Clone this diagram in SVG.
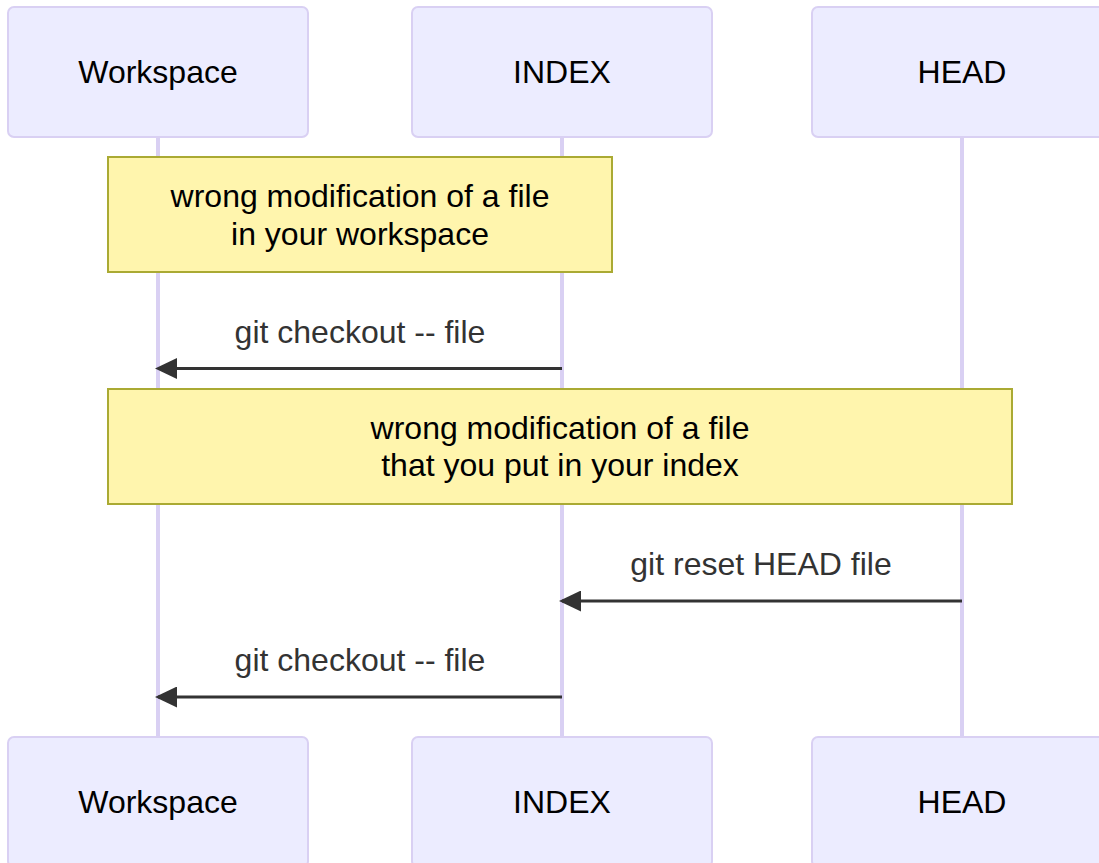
<svg xmlns="http://www.w3.org/2000/svg" width="1099" height="863" viewBox="0 0 1099 863">
  <style>
    text { font-family: "Liberation Sans", Arial, sans-serif; font-size: 32px; text-anchor: middle; dominant-baseline: central; }
    .actor { fill: #ececff; stroke: #d9d0f3; stroke-width: 2; }
    .actor-text { fill: #000; }
    .lifeline { stroke: #d9d0f3; stroke-width: 4; }
    .note { fill: #fff5ad; stroke: #aaaa33; stroke-width: 2; }
    .note-text { fill: #000; }
    .msg { stroke: #333; stroke-width: 3; fill: none; marker-end: url(#arrowhead); }
    .msg-text { fill: #333; }
  </style>
  <defs>
    <marker id="arrowhead" viewBox="0 0 22 21" markerUnits="userSpaceOnUse" markerWidth="22" markerHeight="21" refX="19" refY="10.5" orient="auto">
      <path d="M0,0 L22,10.5 L0,21 z" fill="#333"/>
    </marker>
  </defs>
  <rect width="1099" height="863" fill="#fff"/>

  <!-- lifelines -->
  <g id="lifelines">
    <line class="lifeline" x1="158" y1="137" x2="158" y2="737"/>
    <line class="lifeline" x1="562" y1="137" x2="562" y2="737"/>
    <line class="lifeline" x1="962" y1="137" x2="962" y2="737"/>
  </g>

  <!-- participants, top row -->
  <g id="actor-workspace-top">
    <rect class="actor" x="8" y="7" width="300" height="130" rx="6"/>
    <text class="actor-text" x="158" y="72">Workspace</text>
  </g>
  <g id="actor-index-top">
    <rect class="actor" x="412" y="7" width="300" height="130" rx="6"/>
    <text class="actor-text" x="562" y="72">INDEX</text>
  </g>
  <g id="actor-head-top">
    <rect class="actor" x="812" y="7" width="300" height="130" rx="6"/>
    <text class="actor-text" x="962" y="72">HEAD</text>
  </g>

  <!-- notes -->
  <g id="note-1">
    <rect class="note" x="108" y="157" width="504" height="115"/>
    <text class="note-text" x="360" y="196">wrong modification of a file</text>
    <text class="note-text" x="360" y="234">in your workspace</text>
  </g>
  <g id="note-2">
    <rect class="note" x="108" y="389" width="904" height="115"/>
    <text class="note-text" x="560" y="428">wrong modification of a file</text>
    <text class="note-text" x="560" y="465">that you put in your index</text>
  </g>

  <!-- messages -->
  <g id="connectors">
    <line class="msg" x1="562" y1="368.5" x2="158" y2="368.5"/>
    <text class="msg-text" x="360" y="332">git checkout -- file</text>
    <line class="msg" x1="962" y1="601" x2="562" y2="601"/>
    <text class="msg-text" x="761" y="564">git reset HEAD file</text>
    <line class="msg" x1="562" y1="697" x2="158" y2="697"/>
    <text class="msg-text" x="360" y="660">git checkout -- file</text>
  </g>

  <!-- participants, bottom row -->
  <g id="actor-workspace-bottom">
    <rect class="actor" x="8" y="737" width="300" height="130" rx="6"/>
    <text class="actor-text" x="158" y="802">Workspace</text>
  </g>
  <g id="actor-index-bottom">
    <rect class="actor" x="412" y="737" width="300" height="130" rx="6"/>
    <text class="actor-text" x="562" y="802">INDEX</text>
  </g>
  <g id="actor-head-bottom">
    <rect class="actor" x="812" y="737" width="300" height="130" rx="6"/>
    <text class="actor-text" x="962" y="802">HEAD</text>
  </g>
</svg>
